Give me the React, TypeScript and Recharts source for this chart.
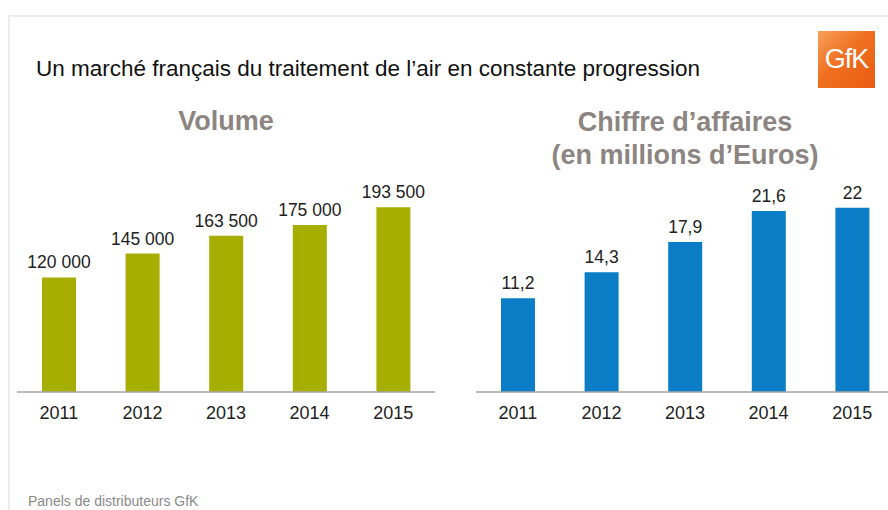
import { BarChart, Bar, XAxis, YAxis, LabelList } from 'recharts';

const years = ['2011', '2012', '2013', '2014', '2015'];
const volume = [120000, 145000, 163500, 175000, 193500];
const chiffre = [11.2, 14.3, 17.9, 21.6, 22];

const volumeData = years.map((year, i) => ({ year, value: volume[i] }));
const chiffreData = years.map((year, i) => ({ year, value: chiffre[i] }));

const FONT = 'Arial, "Liberation Sans", sans-serif';

const fmtVolume = (v: any) => String(v).replace(/\B(?=(\d{3})+(?!\d))/g, ' ');
const fmtChiffre = (v: any) => String(v).replace('.', ',');

const tickStyle = { fontSize: 18, fill: '#222', fontFamily: FONT };

// label drawn by hand so it never wraps inside the bar width
const makeLabel = (fmt: (v: any) => string) => (props: any) => {
  const { x, y, width, value } = props;
  return (
    <text
      x={x + width / 2}
      y={y - 9}
      textAnchor="middle"
      fontSize={17.5}
      fill="#222"
      fontFamily={FONT}
    >
      {fmt(value)}
    </text>
  );
};

function Panel({ data, color, domain, top, fmt }: any) {
  return (
    <BarChart width={440} height={430} data={data} margin={{ top, right: 4, left: 18, bottom: 8 }}>
      <XAxis
        dataKey="year"
        axisLine={{ stroke: '#a6a6a6', strokeWidth: 1.5 }}
        tickLine={false}
        tick={tickStyle}
        tickMargin={8}
        height={30}
        interval={0}
      />
      <YAxis hide domain={domain} />
      <Bar dataKey="value" fill={color} barSize={34} isAnimationActive={false}>
        <LabelList dataKey="value" content={makeLabel(fmt)} />
      </Bar>
    </BarChart>
  );
}

export default function App() {
  return (
    <div
      style={{
        position: 'fixed',
        left: 0,
        top: 0,
        width: 888,
        height: 510,
        overflow: 'hidden',
        background: '#fff',
        fontFamily: FONT,
      }}
    >
      <div
        style={{
          position: 'absolute',
          left: 8,
          top: 15,
          width: 900,
          height: 520,
          borderTop: '2px solid #ececec',
          borderLeft: '2px solid #ececec',
        }}
      />
      <div style={{ position: 'absolute', left: 36, top: 56, fontSize: 22.5, color: '#111', whiteSpace: 'nowrap' }}>
        Un marché français du traitement de l’air en constante progression
      </div>
      <div
        style={{
          position: 'absolute',
          left: 818,
          top: 31,
          width: 57,
          height: 57,
          background: 'linear-gradient(135deg, #f7a05a 0%, #f07020 45%, #e85a10 100%)',
          color: '#fff',
          fontSize: 27,
          fontWeight: 300,
          lineHeight: '57px',
          textAlign: 'center',
          letterSpacing: -1,
        }}
      >
        GfK
      </div>
      <div
        style={{
          position: 'absolute',
          left: 76,
          width: 300,
          top: 106,
          textAlign: 'center',
          fontSize: 27,
          fontWeight: 'bold',
          color: '#8c8581',
        }}
      >
        Volume
      </div>
      <div
        style={{
          position: 'absolute',
          left: 535,
          width: 300,
          top: 106,
          textAlign: 'center',
          fontSize: 27,
          fontWeight: 'bold',
          color: '#8c8581',
          lineHeight: '33px',
        }}
      >
        Chiffre d’affaires
        <br />
        (en millions d’Euros)
      </div>
      <div style={{ position: 'absolute', left: -1, top: 0 }}>
        <Panel data={volumeData} color="#a6ae00" domain={[0, 200000]} top={201} fmt={fmtVolume} />
      </div>
      <div style={{ position: 'absolute', left: 458, top: 0 }}>
        <Panel data={chiffreData} color="#0a7dc6" domain={[0, 24]} top={191} fmt={fmtChiffre} />
      </div>
      <div style={{ position: 'absolute', left: 28, top: 493, fontSize: 14, lineHeight: '16px', color: '#8a8a8a' }}>
        Panels de distributeurs GfK
      </div>
    </div>
  );
}
